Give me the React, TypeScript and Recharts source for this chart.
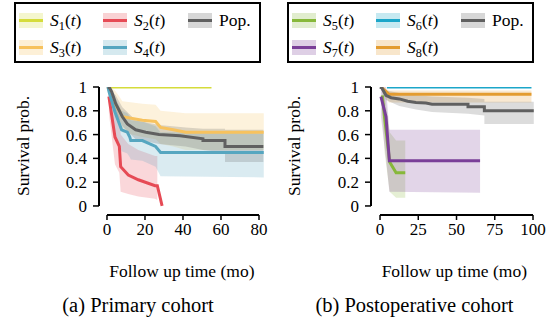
import React from 'react';
import {
  Area,
  ComposedChart,
  Label,
  Legend,
  Line,
  ReferenceLine,
  XAxis,
  YAxis,
} from 'recharts';

// (a) primary cohort
const s1Time = [2, 55];
const s1Surv = [1, 1];

const s2Time = [1, 4.2, 6.5, 7.2, 11.2, 16.5, 25.3, 26.5, 29];
const s2Surv = [0.92, 0.58, 0.5, 0.33, 0.26, 0.22, 0.17, 0.17, 0];
const s2BandTime = [1, 4.2, 6.5, 7.2, 11.2, 16.5, 25.3, 26.5];
const s2Lo = [0.78, 0.35, 0.28, 0.12, 0.1, 0.08, 0.06, 0.05];
const s2Hi = [1, 0.85, 0.75, 0.6, 0.52, 0.47, 0.42, 0.42];

const s3Time = [0.5, 1.4, 4.2, 6.5, 8.1, 18.6, 25.6, 28.2, 34.9, 41.4, 82.5];
const s3Surv = [1, 0.96, 0.86, 0.8, 0.75, 0.72, 0.71, 0.66, 0.64, 0.62, 0.62];
const s3Lo = [1, 0.9, 0.75, 0.68, 0.62, 0.58, 0.56, 0.52, 0.5, 0.47, 0.47];
const s3Hi = [1, 1, 0.97, 0.92, 0.88, 0.86, 0.85, 0.8, 0.79, 0.78, 0.78];

const s4Time = [0.5, 1.1, 4.2, 7.7, 10.7, 12, 12.5, 18.6, 25.6, 28.2, 82.5];
const s4Surv = [1, 0.96, 0.79, 0.64, 0.62, 0.58, 0.55, 0.55, 0.5, 0.45, 0.45];
const s4Lo = [0.95, 0.88, 0.62, 0.46, 0.44, 0.41, 0.39, 0.38, 0.33, 0.25, 0.24];
const s4Hi = [1, 1, 0.92, 0.8, 0.78, 0.75, 0.72, 0.71, 0.67, 0.62, 0.61];

const popATime = [0.5, 1.5, 2.5, 4.6, 8.1, 10.7, 15.1, 20.4, 27.4, 38.4, 50.5, 50.5, 62.1, 62.1, 82.3];
const popASurv = [1, 0.99, 0.96, 0.86, 0.75, 0.69, 0.64, 0.62, 0.6, 0.59, 0.565, 0.55, 0.55, 0.5, 0.5];
const popABandTime = [0.5, 4.6, 8.1, 15.1, 27.4, 41.4, 50.5, 62.1, 62.1, 82.3];
const popALo = [0.97, 0.78, 0.67, 0.56, 0.52, 0.5, 0.47, 0.45, 0.37, 0.37];
const popAHi = [1, 0.93, 0.83, 0.72, 0.68, 0.66, 0.65, 0.65, 0.64, 0.64];

// (b) postoperative cohort
const s5Time = [1.5, 3, 6.3, 10.5, 16.5];
const s5Surv = [0.93, 0.74, 0.37, 0.28, 0.28];
const s5Lo = [0.75, 0.45, 0.12, 0.07, 0.07];
const s5Hi = [1, 0.95, 0.62, 0.55, 0.55];

const s6Time = [4.5, 99];
const s6Surv = [1, 1];

const s7Time = [0.6, 3.9, 6.1, 65.4];
const s7Surv = [0.92, 0.75, 0.38, 0.38];
const s7Lo = [0.75, 0.4, 0.12, 0.11];
const s7Hi = [1, 1, 0.64, 0.64];

const s8Time = [0.5, 1.5, 5.8, 99];
const s8Surv = [1, 0.99, 0.94, 0.94];
const s8Lo = [1, 0.97, 0.87, 0.87];
const s8Hi = [1, 1, 0.97, 0.97];

const popBTime = [0, 1.3, 3.9, 7.2, 12.6, 18.1, 23.5, 30, 34, 57.5, 57.5, 68.2, 68.2, 100.5];
const popBSurv = [1, 0.99, 0.93, 0.91, 0.9, 0.88, 0.87, 0.865, 0.856, 0.856, 0.833, 0.833, 0.8, 0.8];
const popBBandTime = [0, 3.9, 12.6, 23.5, 34, 57.5, 68.2, 68.2, 100.5];
const popBLo = [1, 0.89, 0.84, 0.81, 0.79, 0.775, 0.76, 0.69, 0.69];
const popBHi = [1, 0.97, 0.95, 0.93, 0.92, 0.91, 0.9, 0.875, 0.875];

const yTicks = [0, 0.2, 0.4, 0.6, 0.8, 1];
const xTicksA = [0, 20, 40, 60, 80];
const xTicksB = [0, 25, 50, 75, 100];
const legendOrderA = ['S_1(t)', 'S_2(t)', 'Pop.', 'S_3(t)', 'S_4(t)'];
const legendOrderB = ['S_5(t)', 'S_6(t)', 'Pop.', 'S_7(t)', 'S_8(t)'];

const FONT = "'Liberation Serif', 'DejaVu Serif', serif";
const Y_MIN = -0.076;

const toLine = (t: number[], s: number[]) => t.map((x, i) => ({ t: x, s: s[i] }));
const toBand = (t: number[], lo: number[], hi: number[]) =>
  t.map((x, i) => ({ t: x, band: [lo[i], hi[i]] }));

type Series = { name: string; color: string; line: any[]; band?: any[] };

const seriesA: Series[] = [
  { name: 'S_1(t)', color: '#d5dc3b', line: toLine(s1Time, s1Surv) },
  { name: 'S_2(t)', color: '#e64a55', line: toLine(s2Time, s2Surv), band: toBand(s2BandTime, s2Lo, s2Hi) },
  { name: 'S_3(t)', color: '#f7c25e', line: toLine(s3Time, s3Surv), band: toBand(s3Time, s3Lo, s3Hi) },
  { name: 'S_4(t)', color: '#56a6c0', line: toLine(s4Time, s4Surv), band: toBand(s4Time, s4Lo, s4Hi) },
  { name: 'Pop.', color: '#606060', line: toLine(popATime, popASurv), band: toBand(popABandTime, popALo, popAHi) },
];

const seriesB: Series[] = [
  { name: 'S_5(t)', color: '#87b83a', line: toLine(s5Time, s5Surv), band: toBand(s5Time, s5Lo, s5Hi) },
  { name: 'S_6(t)', color: '#1ca6c9', line: toLine(s6Time, s6Surv) },
  { name: 'S_8(t)', color: '#e39c30', line: toLine(s8Time, s8Surv), band: toBand(s8Time, s8Lo, s8Hi) },
  { name: 'Pop.', color: '#606060', line: toLine(popBTime, popBSurv), band: toBand(popBBandTime, popBLo, popBHi) },
  { name: 'S_7(t)', color: '#7a3f98', line: toLine(s7Time, s7Surv), band: toBand(s7Time, s7Lo, s7Hi) },
];

const MathName = ({ name }: { name: string }) => {
  const m = /^S_(\d)\(t\)$/.exec(name);
  if (!m) return <span>{name}</span>;
  return (
    <span style={{ whiteSpace: 'nowrap' }}>
      <i>S</i>
      <span style={{ fontSize: '0.7em', position: 'relative', top: '0.3em' }}>{m[1]}</span>
      (<i>t</i>)
    </span>
  );
};

const LegendBox = ({ payload, order }: any) => {
  const items = order
    .map((n: string) => (payload || []).find((p: any) => p.value === n))
    .filter(Boolean);
  return (
    <div
      style={{
        boxSizing: 'border-box',
        width: 247,
        height: 61,
        border: '2px solid #000',
        padding: '3px 0 0 3px',
        display: 'grid',
        gridTemplateColumns: '84px 85px 74px',
        gridAutoRows: '27px',
        fontFamily: FONT,
        fontSize: 17.5,
        color: '#000',
        background: '#fff',
      }}
    >
      {items.map((p: any) => (
        <div key={p.value} style={{ display: 'flex', alignItems: 'center' }}>
          <svg width={24} height={15} style={{ marginRight: 7, flex: 'none' }}>
            <rect width={24} height={15} fill={p.color} fillOpacity={0.25} />
            <line x1={0} x2={24} y1={7.5} y2={7.5} stroke={p.color} strokeWidth={3} />
          </svg>
          <MathName name={p.value} />
        </div>
      ))}
    </div>
  );
};

interface PanelProps {
  series: Series[];
  order: string[];
  left: number;
  width: number;
  yAxisWidth: number;
  marginRight: number;
  xDomain: [number, number];
  xTicks: number[];
  yLabelX: number;
  legendLeft: number;
  caption: string;
}

const Panel = ({
  series,
  order,
  left,
  width,
  yAxisWidth,
  marginRight,
  xDomain,
  xTicks,
  yLabelX,
  legendLeft,
  caption,
}: PanelProps) => {
  const tickStyle = { fill: '#000', fontSize: 17, fontFamily: FONT };
  return (
    <div style={{ position: 'absolute', left, top: 0, width, height: 323 }}>
      <ComposedChart
        width={width}
        height={290}
        margin={{ top: 87, right: marginRight, bottom: 0, left: 0 }}
        style={{ fontFamily: FONT }}
      >
        <XAxis
          type="number"
          dataKey="t"
          domain={xDomain}
          ticks={xTicks}
          interval={0}
          allowDataOverflow
          axisLine={false}
          tickSize={5}
          tickMargin={3}
          tickLine={{ stroke: '#000', strokeWidth: 1.5 }}
          tick={tickStyle}
          height={75}
        >
          <Label
            content={({ viewBox }: any) => (
              <text
                x={viewBox.x + viewBox.width / 2}
                y={viewBox.y + 56}
                textAnchor="middle"
                dominantBaseline="central"
                style={{ fontFamily: FONT, fontSize: 17.5 }}
                fill="#000"
              >
                Follow up time (mo)
              </text>
            )}
          />
        </XAxis>
        <YAxis
          type="number"
          domain={[Y_MIN, 1]}
          ticks={yTicks}
          interval={0}
          allowDataOverflow
          axisLine={false}
          width={yAxisWidth}
          tickSize={6}
          tickMargin={6}
          tickLine={{ stroke: '#000', strokeWidth: 1.5 }}
          tick={tickStyle}
        >
          <Label
            content={() => (
              <text
                x={yLabelX}
                y={146}
                transform={`rotate(-90 ${yLabelX} 146)`}
                textAnchor="middle"
                dominantBaseline="central"
                style={{ fontFamily: FONT, fontSize: 17.5 }}
                fill="#000"
              >
                Survival prob.
              </text>
            )}
          />
        </YAxis>
        <ReferenceLine
          segment={[{ x: xDomain[0], y: 0 }, { x: xDomain[0], y: 1 }]}
          stroke="#000"
          strokeWidth={2}
          ifOverflow="visible"
        />
        <ReferenceLine
          segment={[{ x: 0, y: Y_MIN }, { x: xTicks[xTicks.length - 1], y: Y_MIN }]}
          stroke="#000"
          strokeWidth={2}
          ifOverflow="visible"
        />
        {series
          .filter((s) => s.band)
          .map((s) => (
            <Area
              key={`band-${s.name}`}
              data={s.band}
              dataKey="band"
              type="linear"
              stroke="none"
              fill={s.color}
              fillOpacity={0.22}
              legendType="none"
              isAnimationActive={false}
            />
          ))}
        {series.map((s) => (
          <Line
            key={s.name}
            name={s.name}
            data={s.line}
            dataKey="s"
            type="linear"
            stroke={s.color}
            strokeWidth={3}
            dot={false}
            isAnimationActive={false}
          />
        ))}
        <Legend
          layout="horizontal"
          align="center"
          verticalAlign="middle"
          wrapperStyle={{ left: legendLeft, top: 2, width: 247 }}
          content={(props: any) => <LegendBox payload={props.payload} order={order} />}
        />
      </ComposedChart>
      <div
        style={{
          position: 'absolute',
          left: 0,
          top: 294,
          width,
          textAlign: 'center',
          fontFamily: FONT,
          fontSize: 20.5,
          color: '#000',
        }}
      >
        {caption}
      </div>
    </div>
  );
};

const App = () => (
  <div style={{ position: 'absolute', left: 0, top: 0, width: 553, height: 323, background: '#fff' }}>
    <Panel
      series={seriesA}
      order={legendOrderA}
      left={0}
      width={276}
      yAxisWidth={99}
      marginRight={11.3}
      xDomain={[-4.2, 83]}
      xTicks={xTicksA}
      yLabelX={23}
      legendLeft={14}
      caption="(a) Primary cohort"
    />
    <Panel
      series={seriesB}
      order={legendOrderB}
      left={276}
      width={277}
      yAxisWidth={95}
      marginRight={15.4}
      xDomain={[-5.9, 103]}
      xTicks={xTicksB}
      yLabelX={18}
      legendLeft={11}
      caption="(b) Postoperative cohort"
    />
  </div>
);

export default App;
